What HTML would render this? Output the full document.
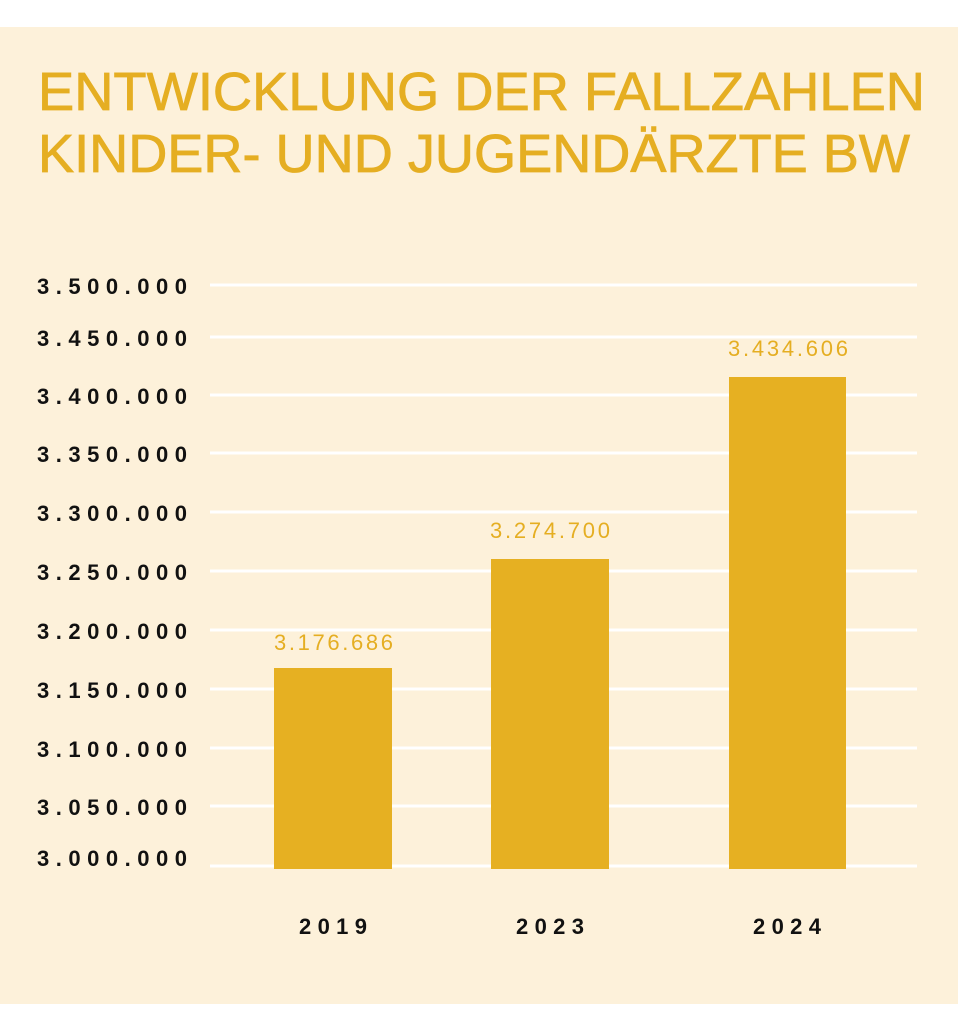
<!DOCTYPE html>
<html><head><meta charset="utf-8"><style>
html,body{margin:0;padding:0;background:#fff;}
svg{display:block}
</style></head><body>
<svg width="973" height="1024" xmlns="http://www.w3.org/2000/svg">
<rect x="0" y="27" width="958" height="977" fill="#fdf1da"/>
<g font-family="Liberation Sans, sans-serif" fill="#e5ae22" stroke="#e5ae22" stroke-width="0.8" font-size="54">
<text x="38" y="110" textLength="887" lengthAdjust="spacingAndGlyphs">ENTWICKLUNG DER FALLZAHLEN</text>
<text x="38" y="172" textLength="872" lengthAdjust="spacingAndGlyphs">KINDER- UND JUGENDÄRZTE BW</text>
</g>
<g stroke="#ffffff" stroke-width="3">
<line x1="210" x2="917" y1="285" y2="285"/>
<line x1="210" x2="917" y1="337" y2="337"/>
<line x1="210" x2="917" y1="395" y2="395"/>
<line x1="210" x2="917" y1="453" y2="453"/>
<line x1="210" x2="917" y1="512" y2="512"/>
<line x1="210" x2="917" y1="571" y2="571"/>
<line x1="210" x2="917" y1="630" y2="630"/>
<line x1="210" x2="917" y1="689" y2="689"/>
<line x1="210" x2="917" y1="748" y2="748"/>
<line x1="210" x2="917" y1="806" y2="806"/>
<line x1="210" x2="917" y1="866" y2="866"/>
</g>
<g fill="#e6b022">
<rect x="274" y="668" width="118" height="201"/>
<rect x="491" y="559" width="118" height="310"/>
<rect x="729" y="377" width="117" height="492"/>
</g>
<g font-family="Liberation Sans, sans-serif" font-weight="bold" font-size="22" fill="#111">
<text x="37" y="294" textLength="150">3.500.000</text>
<text x="37" y="346" textLength="150">3.450.000</text>
<text x="37" y="404" textLength="150">3.400.000</text>
<text x="37" y="462" textLength="150">3.350.000</text>
<text x="37" y="521" textLength="150">3.300.000</text>
<text x="37" y="580" textLength="150">3.250.000</text>
<text x="37" y="639" textLength="150">3.200.000</text>
<text x="37" y="698" textLength="150">3.150.000</text>
<text x="37" y="757" textLength="150">3.100.000</text>
<text x="37" y="815" textLength="150">3.050.000</text>
<text x="37" y="866" textLength="150">3.000.000</text>
<text x="299" y="934" textLength="68">2019</text>
<text x="516" y="934" textLength="68">2023</text>
<text x="753" y="934" textLength="68">2024</text>
</g>
<g font-family="Liberation Sans, sans-serif" font-size="22" fill="#e5ae22">
<text x="274" y="650" textLength="119">3.176.686</text>
<text x="490" y="538" textLength="120">3.274.700</text>
<text x="728" y="356" textLength="120">3.434.606</text>
</g>
</svg>
</body></html>
